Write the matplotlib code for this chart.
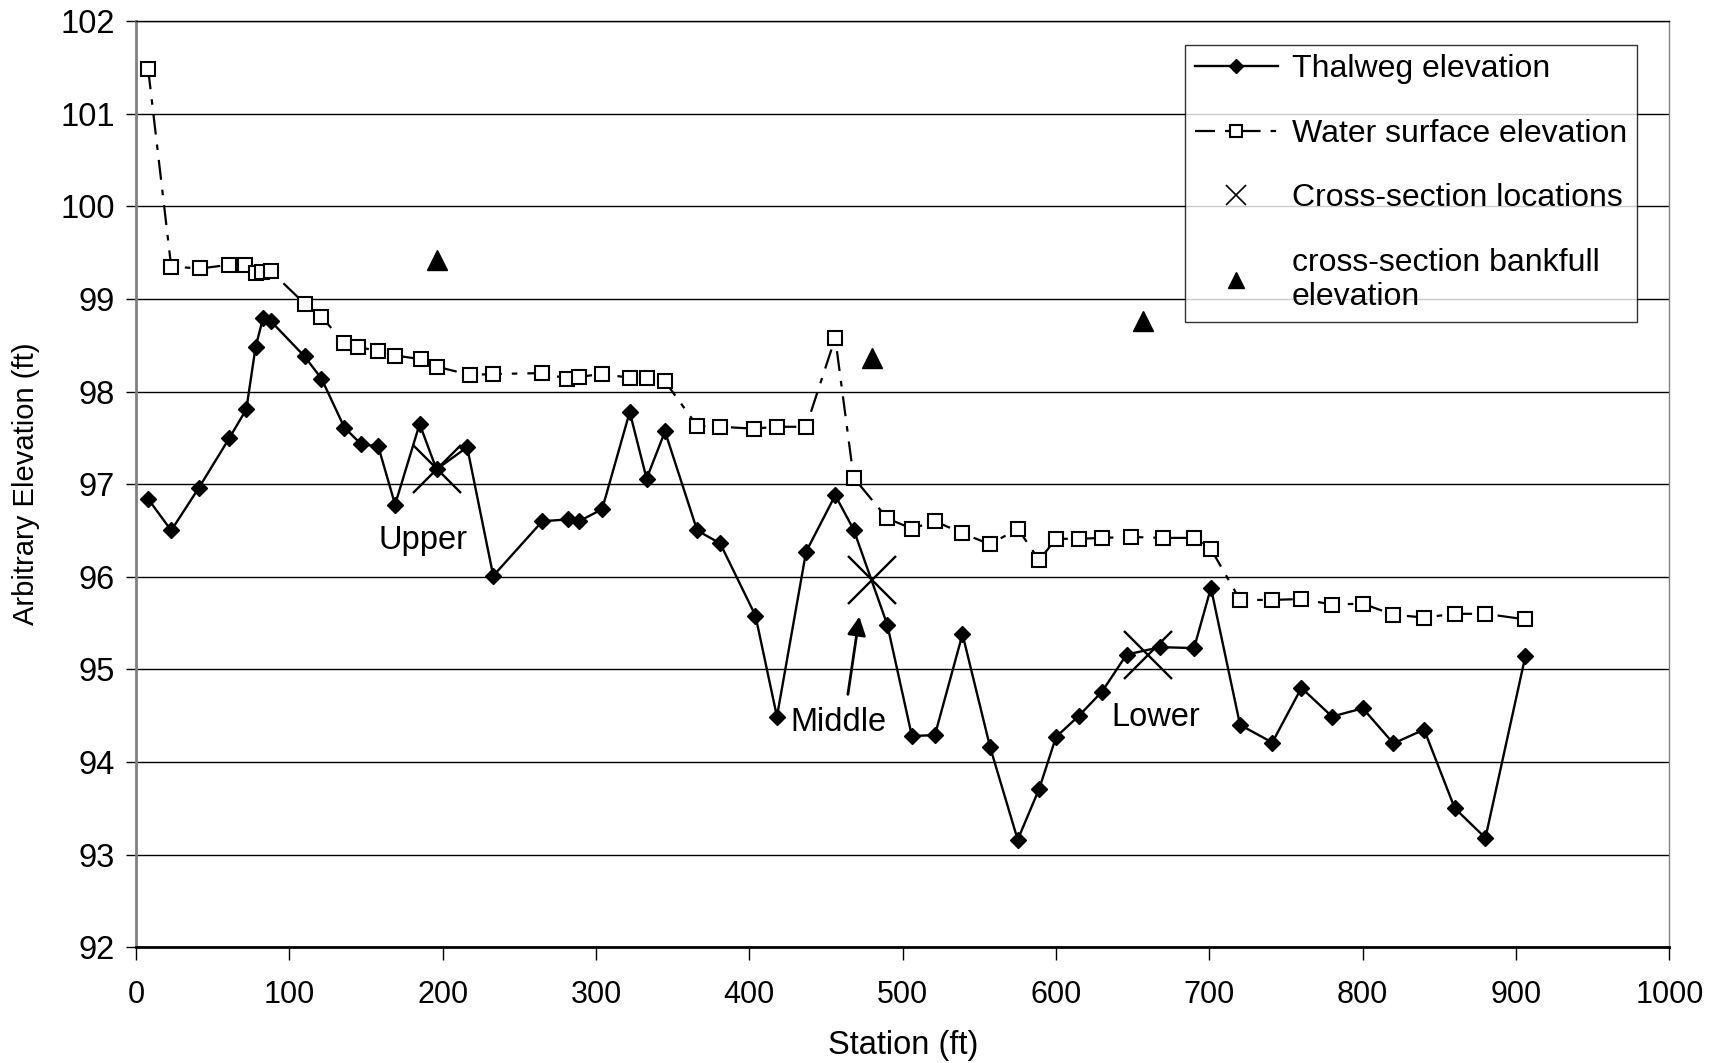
import numpy as np
import matplotlib
matplotlib.use('Agg')
import matplotlib.pyplot as plt
from matplotlib.lines import Line2D

plt.rcParams['font.family'] = ['Liberation Sans', 'DejaVu Sans']
plt.rcParams['font.size'] = 23

# thalweg survey points (station ft, elevation ft)
thalweg_station = [8, 23, 41, 61, 72, 78, 83, 88, 110, 121, 136, 147, 158, 169, 185, 196,
                   216, 233, 265, 282, 289, 304, 322, 333, 345, 366, 381, 404, 418, 437,
                   456, 468, 490, 506, 521, 539, 557, 575, 589, 600, 615, 630, 646, 668,
                   690, 701, 720, 741, 760, 780, 800, 820, 840, 860, 880, 906]
thalweg_elev = [96.84, 96.50, 96.96, 97.50, 97.81, 98.48, 98.80, 98.76, 98.38, 98.14, 97.61,
                97.43, 97.41, 96.78, 97.65, 97.16, 97.40, 96.01, 96.60, 96.62, 96.60, 96.73,
                97.78, 97.06, 97.57, 96.50, 96.36, 95.58, 94.49, 96.27, 96.88, 96.51, 95.48,
                94.28, 94.29, 95.38, 94.16, 93.16, 93.71, 94.27, 94.50, 94.76, 95.16, 95.24,
                95.23, 95.88, 94.40, 94.21, 94.80, 94.49, 94.58, 94.20, 94.35, 93.50, 93.18,
                95.14]

# water surface points
water_station = [8, 23, 42, 61, 71, 78, 82, 88, 110, 121, 136, 145, 158, 169, 186, 196,
                 218, 233, 265, 281, 289, 304, 322, 333, 345, 366, 381, 403, 418, 437,
                 456, 468, 490, 506, 521, 539, 557, 575, 589, 600, 615, 630, 649, 670,
                 690, 701, 720, 741, 760, 780, 800, 820, 840, 860, 880, 906]
water_elev = [101.48, 99.35, 99.33, 99.37, 99.37, 99.28, 99.29, 99.30, 98.95, 98.81, 98.52,
              98.48, 98.44, 98.39, 98.35, 98.27, 98.18, 98.19, 98.20, 98.14, 98.16, 98.19,
              98.15, 98.15, 98.11, 97.63, 97.62, 97.60, 97.62, 97.62, 98.58, 97.07, 96.63,
              96.52, 96.60, 96.47, 96.35, 96.52, 96.18, 96.41, 96.41, 96.42, 96.43, 96.42,
              96.42, 96.30, 95.75, 95.75, 95.76, 95.70, 95.71, 95.59, 95.56, 95.60, 95.60,
              95.54]

# cross sections
xs_station = [196, 480, 660]
xs_elev = [97.16, 95.97, 95.15]
xs_names = ['Upper', 'Middle', 'Lower']
bank_station = [196, 480, 657]
bank_elev = [99.42, 98.36, 98.76]

dash_dot = (9, 4.5, 2.5, 4.5)

fig = plt.figure(figsize=(17.25, 10.63), dpi=100)
ax = fig.add_axes([0.0788, 0.109, 0.889, 0.871])

ax.plot(thalweg_station, thalweg_elev, color='black', lw=1.7, marker='D',
        markersize=8, zorder=3)
ax.plot(water_station, water_elev, color='black', lw=1.6, dashes=dash_dot,
        marker='s', markersize=10, markerfacecolor='white', markeredgecolor='black',
        markeredgewidth=1.5, zorder=3)
ax.plot(xs_station, xs_elev, linestyle='none', marker='x', markersize=34,
        markeredgewidth=1.7, color='black', zorder=4)
ax.plot(bank_station, bank_elev, linestyle='none', marker='^', markersize=14,
        color='black', zorder=4)

# cross-section labels
ax.text(187, 96.39, xs_names[0], ha='center', va='center', fontsize=23.5)
ax.text(458, 94.43, xs_names[1], ha='center', va='center', fontsize=23.5)
ax.text(665, 94.48, xs_names[2], ha='center', va='center', fontsize=23.5)
ax.annotate('', xy=(472, 95.6), xytext=(464, 94.7),
            arrowprops=dict(arrowstyle='-|>', color='black', lw=2, mutation_scale=28))

ax.set_xlim(0, 1000)
ax.set_ylim(92, 102)
ax.set_xticks(np.arange(0, 1001, 100))
ax.set_yticks(np.arange(92, 103, 1))
ax.yaxis.grid(True, color='black', lw=1)
ax.set_axisbelow(True)
ax.tick_params(axis='x', direction='out', length=9, width=1, labelsize=22, pad=15)
ax.tick_params(axis='y', direction='out', length=7, width=1, labelsize=23.5, pad=8)

ax.spines['left'].set_color('#808080')
ax.spines['left'].set_linewidth(2)
ax.spines['bottom'].set_linewidth(2)
ax.spines['right'].set_color('#808080')
ax.spines['right'].set_linewidth(1)
ax.spines['top'].set_linewidth(1)

ax.set_xlabel('Station (ft)', fontsize=23.5, labelpad=14)
ax.set_ylabel('Arbitrary Elevation (ft)', fontsize=21, labelpad=15)

handles = [
    Line2D([], [], color='black', lw=1.7, marker='D', markersize=7),
    Line2D([], [], color='black', lw=1.6, dashes=dash_dot, marker='s', markersize=8,
           markerfacecolor='white', markeredgewidth=1.5),
    Line2D([], [], linestyle='none', marker='x', markersize=14, color='black',
           markeredgewidth=1.2),
    Line2D([], [], linestyle='none', marker='^', markersize=12, color='black'),
]
labels = ['Thalweg elevation', 'Water surface elevation', 'Cross-section locations',
          'cross-section bankfull\nelevation']
leg = fig.legend(handles, labels, loc='upper left', bbox_to_anchor=(0.687, 0.958),
                 frameon=True, fancybox=False, fontsize=23, handlelength=2.6,
                 labelspacing=1.08, borderpad=0.3, handletextpad=0.45, borderaxespad=0)
leg.get_frame().set_edgecolor('black')
leg.get_frame().set_linewidth(1)

plt.savefig('out.png', dpi=100)
